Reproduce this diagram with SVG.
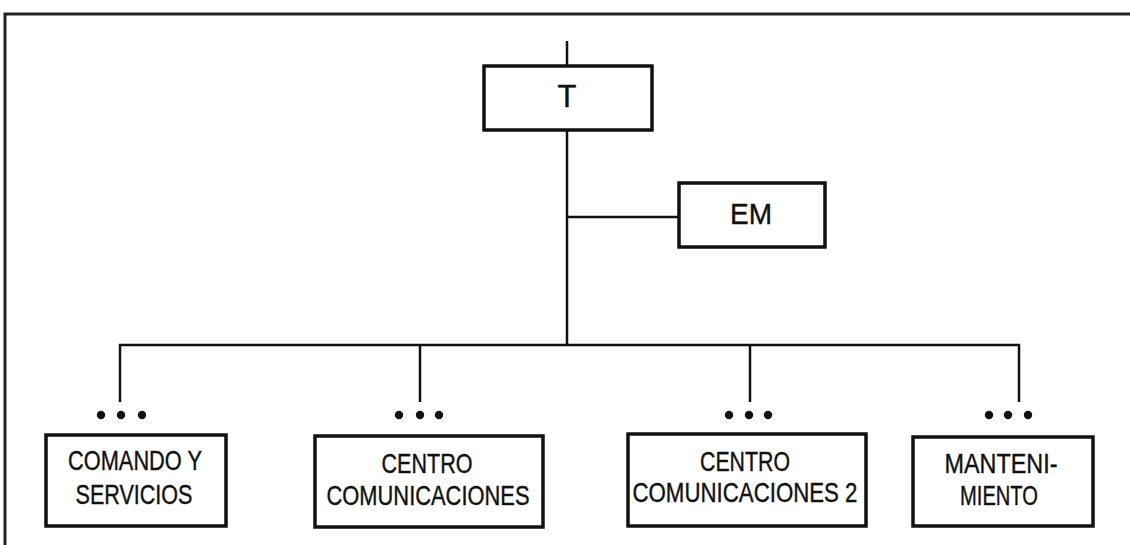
<svg xmlns="http://www.w3.org/2000/svg" width="1130" height="545" viewBox="0 0 1130 545">
<style>
.box{fill:#fff;stroke:#111;stroke-width:3.5}
.ln{fill:none;stroke:#111;stroke-width:2.5}
.frame{fill:none;stroke:#222;stroke-width:3}
.dot{fill:#111}
text{font-family:"Liberation Sans",Arial,sans-serif;fill:#111;text-anchor:middle;stroke:#111;stroke-width:0.4}
.big{font-size:31px}
.lbl{font-size:28px}
</style>
<rect width="1130" height="545" fill="#fff"/>
<path class="frame" d="M5,545 V14 H1130"/>
<g id="connectors">
<path class="ln" d="M567,41 V66"/>
<path class="ln" d="M567,130 V345"/>
<path class="ln" d="M567,217 H679"/>
<path class="ln" d="M120,402 V345 H1019 V402"/>
<path class="ln" d="M420,345 V402"/>
<path class="ln" d="M750,345 V402"/>
</g>
<g id="node-T">
<rect class="box" x="484" y="66" width="168" height="64"/>
<text class="big" x="567" y="107">T</text>
</g>
<g id="node-EM">
<rect class="box" x="679" y="183" width="146" height="64"/>
<text x="751" y="224" font-size="29" textLength="42" lengthAdjust="spacingAndGlyphs">EM</text>
</g>
<g id="node-comando">
<circle class="dot" cx="101" cy="415" r="4.2"/><circle class="dot" cx="121" cy="415" r="4.2"/><circle class="dot" cx="142" cy="415" r="4.2"/>
<rect class="box" x="46" y="435" width="180" height="91"/>
<text class="lbl" x="135" y="470" textLength="134" lengthAdjust="spacingAndGlyphs">COMANDO Y</text>
<text class="lbl" x="134" y="504" textLength="117" lengthAdjust="spacingAndGlyphs">SERVICIOS</text>
</g>
<g id="node-centro">
<circle class="dot" cx="399" cy="415" r="4.2"/><circle class="dot" cx="420" cy="415" r="4.2"/><circle class="dot" cx="439" cy="415" r="4.2"/>
<rect class="box" x="315" y="436" width="228" height="91"/>
<text class="lbl" x="427" y="473" textLength="91" lengthAdjust="spacingAndGlyphs">CENTRO</text>
<text class="lbl" x="428" y="505" textLength="203" lengthAdjust="spacingAndGlyphs">COMUNICACIONES</text>
</g>
<g id="node-centro2">
<circle class="dot" cx="729" cy="415" r="4.2"/><circle class="dot" cx="749" cy="415" r="4.2"/><circle class="dot" cx="768" cy="415" r="4.2"/>
<rect class="box" x="628" y="434" width="238" height="92"/>
<text class="lbl" x="745" y="471" textLength="90" lengthAdjust="spacingAndGlyphs">CENTRO</text>
<text class="lbl" x="745" y="502" textLength="225" lengthAdjust="spacingAndGlyphs">COMUNICACIONES 2</text>
</g>
<g id="node-mant">
<circle class="dot" cx="989" cy="415" r="4.2"/><circle class="dot" cx="1008" cy="415" r="4.2"/><circle class="dot" cx="1028" cy="415" r="4.2"/>
<rect class="box" x="913" y="437" width="180" height="89"/>
<text class="lbl" x="1001" y="473" textLength="113" lengthAdjust="spacingAndGlyphs">MANTENI-</text>
<text class="lbl" x="999" y="505" textLength="78" lengthAdjust="spacingAndGlyphs">MIENTO</text>
</g>
</svg>
